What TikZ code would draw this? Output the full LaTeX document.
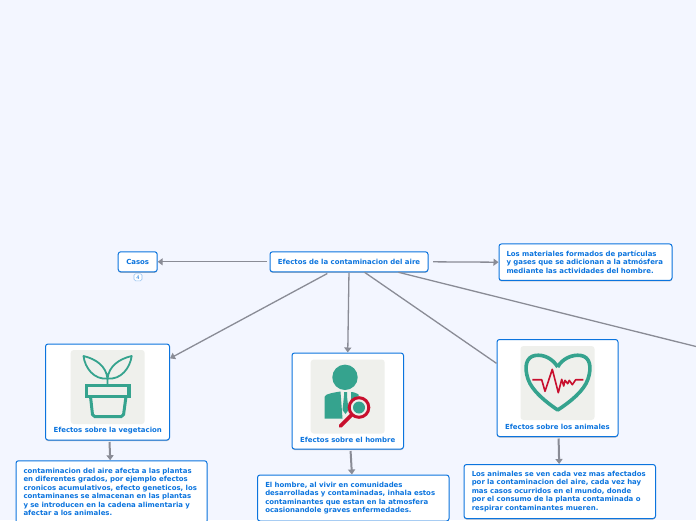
\documentclass[tikz,border=0pt]{standalone}
\usepackage{fontspec}
\usetikzlibrary{arrows.meta,shadows}
\setmainfont{DejaVu Sans}
\definecolor{pagebg}{HTML}{F3F6FF}
\definecolor{boxblue}{HTML}{0B74DE}
\definecolor{linegray}{HTML}{8A8C96}
\definecolor{icongreen}{HTML}{35A38E}
\definecolor{iconred}{HTML}{C8102E}
\definecolor{icongray}{HTML}{EFF0EC}
\begin{document}
\begin{tikzpicture}[x=1pt,y=-1pt,>={Triangle[length=5pt,width=7pt]},font=\bfseries\fontsize{6.95}{8.5}\selectfont]
        \tikzset{box/.style={draw=boxblue, fill=white, rounded corners=2.5pt, line width=1pt, text=boxblue, inner sep=0pt, align=left, drop shadow={shadow xshift=0pt, shadow yshift=-1pt, opacity=.25, fill=black}},
            link/.style={draw=linegray, line width=1.3pt, shorten <=2.5pt},
            stem/.style={draw=linegray, line width=2pt, shorten <=1.5pt},
            icon/.style={fill=icongray, rounded corners=3pt, minimum size=74pt, inner sep=0pt}}
        \fill[pagebg] (0,0) rectangle (696,520);
        \useasboundingbox (0,0) rectangle (696,520);
        \coordinate (offpage) at (696,346.5);
        \node[box, minimum width=158pt, minimum height=20pt] (main) at (349,261.8) {Efectos de la contaminacion del aire};
        \node[box, minimum width=39pt, minimum height=20pt] (casos) at (137.7,261.8) {Casos};
        \node[draw=boxblue!45, fill=white, rounded corners=1.5pt, text=boxblue, inner sep=0pt, line width=.6pt, minimum width=8pt, minimum height=7pt, font=\fontsize{5}{5}\selectfont] (badge) at (138,277.3) {4};
        \node[box, minimum width=173pt, minimum height=36.5pt, text width=158pt] (materiales) at (585.5,262.2) {Los materiales formados de partículas\\y gases que se adicionan a la atmósfera\\mediante las actividades del hombre.};
        \node[box, minimum width=124pt, minimum height=96pt] (vegetacion) at (107.5,392) {};
        \node[box, minimum width=111.5pt, minimum height=96pt] (hombre) at (347.75,401) {};
        \node[box, minimum width=121pt, minimum height=97pt] (animales) at (557.5,388) {};
        \node[box, minimum width=191pt, minimum height=62.5pt, text width=176pt] (textoveg) at (111.5,492) {contaminacion del aire afecta a las plantas\\en diferentes grados, por ejemplo efectos\\cronicos acumulativos, efecto geneticos, los\\contaminanes se almacenan en las plantas\\y se introducen en la cadena alimentaria y\\afectar a los animales.};
        \node[box, minimum width=191.5pt, minimum height=46pt, text width=176pt] (textohom) at (353.25,498) {El hombre, al vivir en comunidades\\desarrolladas y contaminadas, inhala estos\\contaminantes que estan en la atmosfera\\ocasionandole graves enfermedades.};
        \node[box, minimum width=191.5pt, minimum height=54pt, text width=176pt] (textoani) at (559.75,491.5) {Los animales se ven cada vez mas afectados\\por la contaminacion del aire, cada vez hay\\mas casos ocurridos en el mundo, donde\\por el consumo de la planta contaminada o\\respirar contaminantes mueren.};
        % iconos
        \node[icon] (iconveg) at (107.7,387) {};
        \node[icon] (iconhom) at (347.7,396.5) {};
        \node[icon] (iconani) at (557.5,383) {};
        \node[text=boxblue, inner sep=0pt] (labelveg) at (107.7,431) {Efectos sobre la vegetacion};
        \node[text=boxblue, inner sep=0pt] (labelhom) at (347.7,439.5) {Efectos sobre el hombre};
        \node[text=boxblue, inner sep=0pt] (labelani) at (557.5,426.5) {Efectos sobre los animales};
        % planta
        \draw[icongreen, line width=1.8pt, line join=round] (107.5,385) -- (107.5,378.5) .. controls (106,366) and (96,359) .. (83.5,356) .. controls (85,368) and (94,380) .. (107.5,378.5) .. controls (121,380) and (130,368) .. (131.7,356) .. controls (119,359) and (109,366) .. (107.5,378.5);
        \draw[icongreen, line width=3.2pt] (86.5,385.5) rectangle (129,396.5);
        \draw[icongreen, line width=3pt, rounded corners=2pt] (90.5,396.5) -- (92.7,416.5) -- (123.3,416.5) -- (126,396.5);
        % persona
        \fill[icongreen] (345,377.3) circle (12.7pt);
        \fill[icongreen] (324.5,418.5) -- (324.5,397) .. controls (324.5,394) and (334,392.5) .. (340.5,391.5) -- (342.5,418.5) -- cycle;
        \fill[icongreen] (344,392) -- (347,392) -- (347,396) -- (348.5,410) -- (345.5,414) -- (342.5,410) -- (344,396) -- cycle;
        \fill[icongreen] (351,392) .. controls (353,392) and (357,393) .. (359,395) -- (351,403) -- cycle;
        \fill[icongreen] (359,407.5) circle (6pt);
        \draw[iconred, line width=3pt] (359,407.5) circle (9.8pt);
        \draw[iconred, line width=3.6pt, line cap=round] (351.5,415) -- (340.5,426);
        % corazon
        \draw[icongreen, line width=3.6pt, line join=round] (557.7,367) .. controls (553,359) and (544,354) .. (535,355.5) .. controls (526,357) and (524,367) .. (528,379) .. controls (532,391) and (546,402) .. (557.7,410) .. controls (570,402) and (584,391) .. (588,379) .. controls (592,367) and (590,357) .. (581,355.5) .. controls (572,354) and (562,359) .. (557.7,367);
        \draw[iconred, line width=1.6pt, line join=round] (532.3,379.7) -- (541.7,379.7) -- (545,391.3) -- (552.3,369.3) -- (558.3,392.7) -- (561.7,379.3) -- (563.7,386) -- (565,380.3) -- (567.7,383.7) -- (569.3,380.3) -- (572.3,384.7) -- (575.7,379.7) -- (583.3,379.7);
        % conectores
        \draw[link,->] (main) -- (casos);
        \draw[link,->] (main.east) ++(2pt,0) -- (materiales.west);
        \draw[link,->] (main) -- (vegetacion);
        \draw[link,->] (main.south) ++(0,2pt) -- (hombre.north);
        \draw[link,shorten <=0pt] (main.-34) -- (animales.158);
        \draw[link,shorten <=0pt] (main.-12) -- (offpage);
        \draw[stem,->] (vegetacion) -- (textoveg);
        \draw[stem,->] (hombre) -- (textohom);
        \draw[stem,->] (animales) -- (textoani);
    \end{tikzpicture}
\end{document}
